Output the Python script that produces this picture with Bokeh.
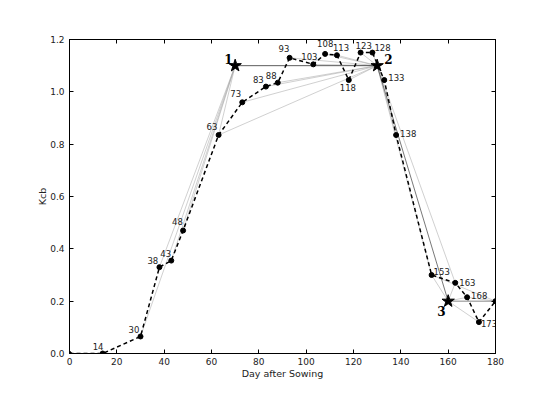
from bokeh.plotting import figure
from bokeh.models import LinearAxis, FixedTicker, ColumnDataSource, Range1d, CustomJSTickFormatter
from bokeh.core.properties import value
from bokeh.embed import file_html
from bokeh.resources import INLINE

# Observed Kcb by day after sowing
days = [0, 14, 30, 38, 43, 48, 63, 73, 83, 88, 93, 103, 108, 113, 118, 123, 128, 133, 138, 153, 163, 168, 173, 180]
kcb = [0.0, 0.0, 0.065, 0.33, 0.355, 0.47, 0.835, 0.96, 1.02, 1.035, 1.13, 1.105, 1.145, 1.14, 1.045, 1.15, 1.15, 1.045, 0.835, 0.30, 0.27, 0.215, 0.12, 0.2]
labels = ["", "14", "30", "38", "43", "48", "63", "73", "83", "88", "93", "103", "108", "113", "118", "123", "128", "133", "138", "153", "163", "168", "173", ""]

# Fitted stage points
stage_names = ["1", "2", "3"]
stage_days = [70, 130, 160]
stage_kcb = [1.1, 1.1, 0.2]
end_day = 180
end_kcb = 0.2

# links from each stage point to observed points
links = {
    0: [30, 38, 43, 48, 63],
    1: [63, 73, 83, 88, 93, 103, 108, 113, 118, 123, 128, 133, 138, 153, 163],
    2: [153, 163, 168, 173],
}

FONT = "DejaVu Sans"
p = figure(width=550, height=393, x_range=Range1d(0, 180), y_range=Range1d(0, 1.2),
           output_backend="svg", toolbar_location=None,
           min_border_left=69, min_border_right=55, min_border_top=39, min_border_bottom=40)
p.grid.visible = False
p.outline_line_color = "black"
p.outline_line_width = 1

for ax in (p.xaxis[0], p.yaxis[0]):
    ax.major_tick_in = 4
    ax.major_tick_out = 0
    ax.minor_tick_in = 0
    ax.minor_tick_out = 0
    ax.axis_line_color = "black"
    ax.major_label_text_font = FONT
    ax.major_label_text_font_size = "9px"
    ax.major_label_text_color = "#222222"
    ax.axis_label_text_font = FONT
    ax.axis_label_text_font_size = "9.5px"
    ax.axis_label_text_font_style = "normal"
    ax.axis_label_text_color = "#222222"

p.xaxis.ticker = FixedTicker(ticks=list(range(0, 181, 20)))
p.yaxis.ticker = FixedTicker(ticks=[0, 0.2, 0.4, 0.6, 0.8, 1.0, 1.2])
p.yaxis.formatter = CustomJSTickFormatter(code="return tick.toFixed(1);")
p.xaxis.axis_label = "Day after Sowing"
p.yaxis.axis_label = "Kcb"
p.xaxis.major_label_standoff = 4
p.yaxis.major_label_standoff = 5
p.xaxis.axis_label_standoff = 0
p.yaxis.axis_label_standoff = -1

top = LinearAxis(ticker=FixedTicker(ticks=list(range(0, 181, 20))), major_label_text_font_size="0px",
                 major_tick_in=4, major_tick_out=0, minor_tick_in=0, minor_tick_out=0)
right = LinearAxis(ticker=FixedTicker(ticks=[0, 0.2, 0.4, 0.6, 0.8, 1.0, 1.2]), major_label_text_font_size="0px",
                   major_tick_in=4, major_tick_out=0, minor_tick_in=0, minor_tick_out=0)
p.add_layout(top, "above")
p.add_layout(right, "right")

# thin gray link lines
lookup = dict(zip(days, kcb))
xs, ys = [], []
for si, targets in links.items():
    for d in targets:
        xs.append([stage_days[si], d])
        ys.append([stage_kcb[si], lookup[d]])
xs.append([153, 180]); ys.append([lookup[153], lookup[180]])
xs.append([168, 180]); ys.append([lookup[168], lookup[180]])
p.multi_line(xs, ys, line_color="#a8a8a8", line_width=0.6, line_alpha=0.9)

# stage lines
p.line([stage_days[0], stage_days[1]], [stage_kcb[0], stage_kcb[1]], line_color="#333333", line_width=0.8)
p.line([stage_days[1], stage_days[2]], [stage_kcb[1], stage_kcb[2]], line_color="#555555", line_width=0.8)
p.line([stage_days[2], end_day], [stage_kcb[2], end_kcb], line_color="#888888", line_width=1.0)

# observed dashed curve
p.line(days, kcb, line_color="black", line_width=1.5, line_dash="4 3")
p.scatter(days[1:], kcb[1:], size=5, color="black")
p.scatter([days[0]], [kcb[0]], size=4, color="black")

# point labels
offs = {
    "14": (-10, 4), "30": (-12, 3), "38": (-12, 3), "43": (-11, 4), "48": (-11, 6),
    "63": (-12, 5), "73": (-12, 5), "83": (-13, 4), "88": (-12, 4), "93": (-11, 6),
    "103": (-12, 4), "108": (-8, 7), "113": (-4, 4), "118": (-9, -11), "123": (-5, 4),
    "128": (2, 2), "133": (4, -1), "138": (4, -2), "153": (2, 0), "163": (4, -3),
    "168": (4, -2), "173": (2, -5),
}
lx, ly, lt, xo, yo = [], [], [], [], []
for d, k, t in zip(days, kcb, labels):
    if t:
        lx.append(d); ly.append(k); lt.append(t)
        xo.append(offs[t][0]); yo.append(-offs[t][1])
src = ColumnDataSource(dict(x=lx, y=ly, t=lt, xo=xo, yo=yo))
p.text("x", "y", text="t", x_offset="xo", y_offset="yo", source=src,
       text_font=value(FONT), text_font_size="8.5px", text_color="#222222",
       text_baseline="bottom", text_align="left")

# stage stars and labels
p.scatter(stage_days, stage_kcb, marker="star", size=13, color="black")
p.text(stage_days, stage_kcb, text=stage_names, x_offset=[-11, 7, -11], y_offset=[-2, -2, 15],
       text_font=value("DejaVu Serif"), text_font_size="12px", text_font_style="bold",
       text_color="black", text_baseline="bottom", text_align="left")

open("out.html", "w").write(file_html(p, INLINE))
